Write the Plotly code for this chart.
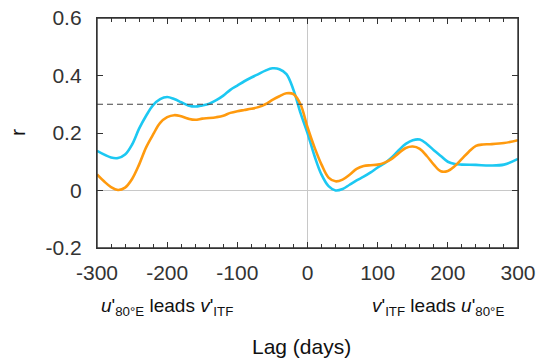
import plotly.graph_objects as go

lag_cyan = [-300, -280, -270, -260, -250, -240, -230, -220, -210, -200, -190, -180, -170, -160, -150,
            -140, -130, -120, -110, -100, -90, -80, -70, -60, -50, -40, -30, -20, -10, 0,
            10, 20, 30, 40, 50, 60, 70, 80, 90, 100, 110, 120, 130, 140, 150, 160, 170, 180,
            190, 200, 210, 220, 240, 260, 280, 300]
r_cyan = [0.138, 0.115, 0.113, 0.125, 0.16, 0.215, 0.26, 0.297, 0.318, 0.325, 0.318, 0.307, 0.296, 0.292, 0.296,
          0.302, 0.314, 0.33, 0.350, 0.365, 0.38, 0.393, 0.405, 0.417, 0.425, 0.422, 0.405, 0.350, 0.27, 0.2,
          0.12, 0.055, 0.015, 0.0, 0.005, 0.02, 0.035, 0.048, 0.063, 0.08, 0.095, 0.115, 0.14, 0.162, 0.175, 0.177, 0.162, 0.14,
          0.12, 0.10, 0.092, 0.09, 0.089, 0.087, 0.09, 0.11]

lag_orange = [-300, -290, -280, -270, -260, -250, -240, -230, -220, -210, -200, -190, -180, -170, -160,
              -150, -140, -130, -120, -110, -100, -90, -80, -70, -60, -50, -40, -30, -20, -10, 0,
              10, 20, 30, 40, 50, 60, 70, 80, 90, 100, 110, 120, 130, 140, 150, 160, 170, 180,
              190, 200, 210, 220, 230, 240, 250, 260, 280, 300]
r_orange = [0.056, 0.032, 0.012, 0.002, 0.01, 0.04, 0.09, 0.15, 0.195, 0.235, 0.255, 0.262, 0.258, 0.25, 0.246,
            0.25, 0.252, 0.255, 0.26, 0.27, 0.276, 0.28, 0.284, 0.29, 0.3, 0.315, 0.328, 0.338, 0.335, 0.30, 0.22,
            0.15, 0.09, 0.045, 0.032, 0.038, 0.055, 0.075, 0.085, 0.088, 0.09, 0.097, 0.11, 0.13, 0.148, 0.153, 0.145, 0.12, 0.09,
            0.067, 0.068, 0.085, 0.11, 0.135, 0.155, 0.16, 0.161, 0.165, 0.175]

x_ticks = [-300, -200, -100, 0, 100, 200, 300]
x_ticktext = ["-300", "-200", "-100", "0", "100", "200", "300"]
x_minor_ticks = list(range(-300, 301, 20))
y_ticks = [-0.2, 0, 0.2, 0.4, 0.6]
y_ticktext = ["-0.2", "0", "0.2", "0.4", "0.6"]

threshold_x = [-300, 300]
threshold_y = [0.3, 0.3]

FONT = "Liberation Sans, Arial, Helvetica, sans-serif"
AX = "#333333"

fig = go.Figure()
# dashed reference line drawn on the mirrored (top/right) axes so they are rendered
fig.add_trace(go.Scatter(x=threshold_x, y=threshold_y, mode="lines", xaxis="x2", yaxis="y2",
                         line=dict(color="#444444", width=1, dash="6px,4px"), showlegend=False))
fig.add_trace(go.Scatter(x=lag_cyan, y=r_cyan, mode="lines",
                         line=dict(color="#1CC8F2", width=2.6, shape="spline", smoothing=1.0), showlegend=False))
fig.add_trace(go.Scatter(x=lag_orange, y=r_orange, mode="lines",
                         line=dict(color="#FF9A0E", width=2.6, shape="spline", smoothing=1.0), showlegend=False))

common_x = dict(range=[-300, 300], tickmode="array", tickvals=x_ticks, ticktext=x_ticktext,
                ticks="inside", ticklen=6, tickcolor=AX, tickwidth=1.2,
                minor=dict(tickmode="array", tickvals=x_minor_ticks, ticks="inside", ticklen=3.5,
                           tickcolor=AX, tickwidth=1.2),
                showline=True, linecolor=AX, linewidth=1.4, showgrid=False, automargin=False)
common_y = dict(range=[-0.2, 0.6], tickmode="array", tickvals=y_ticks, ticktext=y_ticktext,
                ticks="inside", ticklen=6, tickcolor=AX, tickwidth=1.2,
                showline=True, linecolor=AX, linewidth=1.4, showgrid=False, automargin=False)

fig.update_layout(
    width=539, height=360,
    margin=dict(l=97, r=21, t=18, b=112, autoexpand=False),
    paper_bgcolor="white", plot_bgcolor="white",
    font=dict(family=FONT, size=21, color="#333333"),
    xaxis=dict(**common_x, zeroline=True, zerolinecolor="#c8c8c8", zerolinewidth=1,
               tickfont=dict(size=21, color="#333333"), ticklabelstandoff=6),
    xaxis2=dict(**common_x, overlaying="x", side="top", showticklabels=False, zeroline=False),
    yaxis=dict(**common_y, zeroline=True, zerolinecolor="#c8c8c8", zerolinewidth=1,
               tickfont=dict(size=21, color="#333333"), ticklabelstandoff=10),
    yaxis2=dict(**common_y, overlaying="y", side="right", showticklabels=False, zeroline=False),
    shapes=[dict(type="rect", xref="paper", yref="paper", x0=0, x1=1, y0=0, y1=1,
                 line=dict(color=AX, width=1.4), fillcolor="rgba(0,0,0,0)", layer="above")],
    annotations=[
        dict(text="<i>u</i>'<sub>80°E</sub> leads <i>v</i>'<sub>ITF</sub>", xref="paper", yref="paper",
             x=0.166, y=-0.255, xanchor="center", yanchor="middle", showarrow=False,
             font=dict(size=19, color="#111111", family=FONT)),
        dict(text="<i>v</i>'<sub>ITF</sub> leads <i>u</i>'<sub>80°E</sub>", xref="paper", yref="paper",
             x=0.81, y=-0.255, xanchor="center", yanchor="middle", showarrow=False,
             font=dict(size=19, color="#111111", family=FONT)),
        dict(text="Lag (days)", xref="paper", yref="paper",
             x=0.485, y=-0.43, xanchor="center", yanchor="middle", showarrow=False,
             font=dict(size=21, color="#111111", family=FONT)),
        dict(text="r", xref="paper", yref="paper", textangle=-90,
             x=-0.19, y=0.5, xanchor="center", yanchor="middle", showarrow=False,
             font=dict(size=21, color="#111111", family=FONT)),
    ],
)

fig.write_html("out.html", config={"displayModeBar": False},
               post_script="document.body.style.margin='0';")
